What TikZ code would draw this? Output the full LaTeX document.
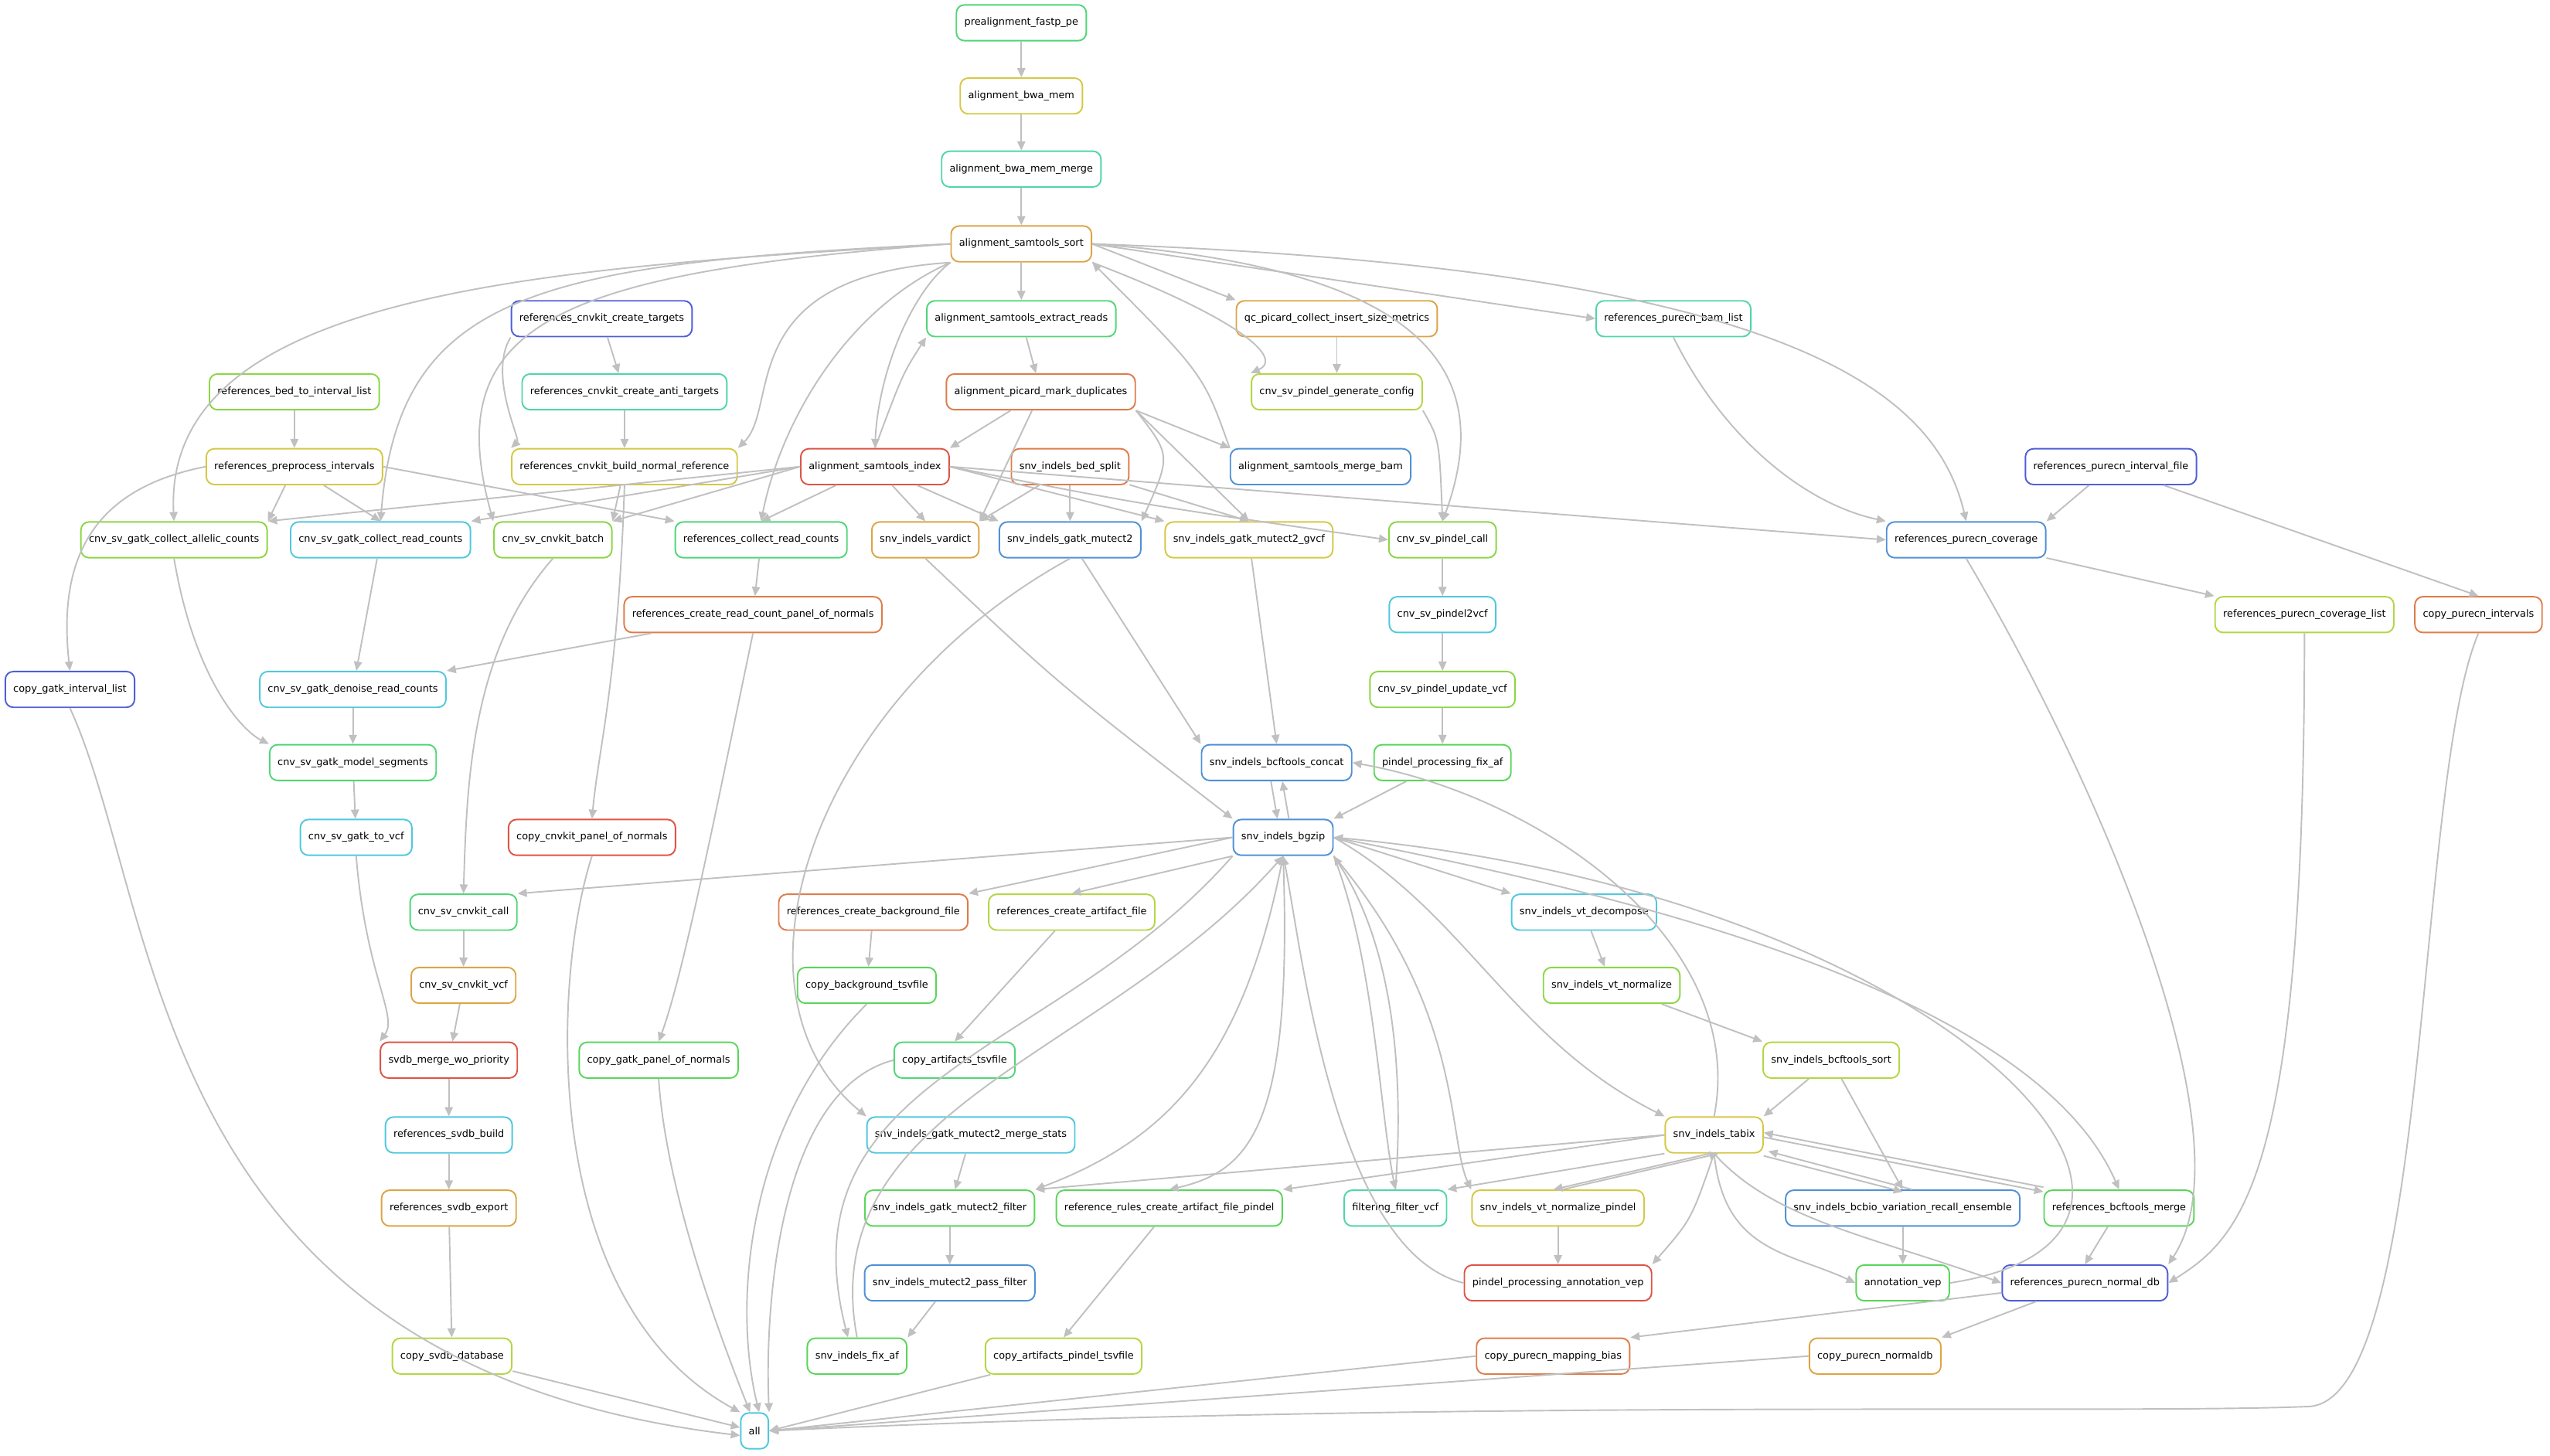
\documentclass[tikz,border=0pt]{standalone}
\usepackage{fontspec}
\setmainfont{DejaVu Sans}
\usetikzlibrary{arrows.meta}
\definecolor{eg}{RGB}{192,192,192}
\definecolor{cgreen}{RGB}{90,214,90}
\definecolor{cgt}{RGB}{80,214,120}
\definecolor{clg}{RGB}{140,214,70}
\definecolor{clime}{RGB}{180,214,70}
\definecolor{cyel}{RGB}{214,200,70}
\definecolor{corg}{RGB}{220,165,70}
\definecolor{corgred}{RGB}{222,125,75}
\definecolor{cred}{RGB}{222,85,70}
\definecolor{cblue}{RGB}{80,145,214}
\definecolor{cindigo}{RGB}{80,95,214}
\definecolor{cteal}{RGB}{80,214,170}
\definecolor{ccyan}{RGB}{80,200,222}
\begin{document}
\begin{tikzpicture}[x=0.05cm,y=-0.05cm,
  n/.style={draw=#1,line width=1.3pt,rounded corners=7pt,minimum height=1.1cm,inner xsep=7pt,fill=white,font=\fontsize{8.7}{10}\selectfont},
  e/.style={draw=eg,line width=1.3pt,-{Triangle[length=8pt,width=7pt]}}]
\useasboundingbox (0,0) rectangle (1568,895);
% nodes
\node[n=cgt] (pre) at (628,14) {prealignment\_fastp\_pe};
\node[n=cyel] (bwa) at (628,59) {alignment\_bwa\_mem};
\node[n=cteal] (bwam) at (628,104) {alignment\_bwa\_mem\_merge};
\node[n=corg] (sort) at (628,150) {alignment\_samtools\_sort};
\node[n=cindigo] (ct) at (370,196) {references\_cnvkit\_create\_targets};
\node[n=cgt] (ext) at (628,196) {alignment\_samtools\_extract\_reads};
\node[n=corg] (qc) at (822,196) {qc\_picard\_collect\_insert\_size\_metrics};
\node[n=cteal] (bam) at (1029,196) {references\_purecn\_bam\_list};
\node[n=clg] (bti) at (181,241) {references\_bed\_to\_interval\_list};
\node[n=cteal] (anti) at (384,241) {references\_cnvkit\_create\_anti\_targets};
\node[n=corgred] (md) at (640,241) {alignment\_picard\_mark\_duplicates};
\node[n=clime] (gen) at (822,241) {cnv\_sv\_pindel\_generate\_config};
\node[n=cyel] (ppi) at (181,287) {references\_preprocess\_intervals};
\node[n=cyel] (bn) at (384,287) {references\_cnvkit\_build\_normal\_reference};
\node[n=cred] (idx) at (538,287) {alignment\_samtools\_index};
\node[n=corgred] (bs) at (658,287) {snv\_indels\_bed\_split};
\node[n=cblue] (mb) at (812,287) {alignment\_samtools\_merge\_bam};
\node[n=cindigo] (pif) at (1298,287) {references\_purecn\_interval\_file};
\node[n=clg] (al) at (107,332) {cnv\_sv\_gatk\_collect\_allelic\_counts};
\node[n=ccyan] (grc) at (234,332) {cnv\_sv\_gatk\_collect\_read\_counts};
\node[n=clg] (kb) at (340,332) {cnv\_sv\_cnvkit\_batch};
\node[n=cgt] (rcrc) at (468,332) {references\_collect\_read\_counts};
\node[n=corg] (vd) at (569,332) {snv\_indels\_vardict};
\node[n=cblue] (m2) at (658,332) {snv\_indels\_gatk\_mutect2};
\node[n=cyel] (gv) at (768,332) {snv\_indels\_gatk\_mutect2\_gvcf};
\node[n=clg] (pc) at (887,332) {cnv\_sv\_pindel\_call};
\node[n=cblue] (cov) at (1209,332) {references\_purecn\_coverage};
\node[n=corgred] (pon) at (463,378) {references\_create\_read\_count\_panel\_of\_normals};
\node[n=ccyan] (p2v) at (887,378) {cnv\_sv\_pindel2vcf};
\node[n=clime] (cl) at (1417,378) {references\_purecn\_coverage\_list};
\node[n=corgred] (cpi) at (1524,378) {copy\_purecn\_intervals};
\node[n=cindigo] (cgil) at (43,424) {copy\_gatk\_interval\_list};
\node[n=ccyan] (den) at (217,424) {cnv\_sv\_gatk\_denoise\_read\_counts};
\node[n=clg] (upd) at (887,424) {cnv\_sv\_pindel\_update\_vcf};
\node[n=cgt] (ms) at (217,469) {cnv\_sv\_gatk\_model\_segments};
\node[n=cblue] (cc) at (785,469) {snv\_indels\_bcftools\_concat};
\node[n=cgreen] (pfa) at (887,469) {pindel\_processing\_fix\_af};
\node[n=ccyan] (gtv) at (219,515) {cnv\_sv\_gatk\_to\_vcf};
\node[n=cred] (ccp) at (364,515) {copy\_cnvkit\_panel\_of\_normals};
\node[n=cblue] (bg) at (789,515) {snv\_indels\_bgzip};
\node[n=cgt] (kc) at (285,561) {cnv\_sv\_cnvkit\_call};
\node[n=corgred] (rbf) at (537,561) {references\_create\_background\_file};
\node[n=clime] (raf) at (659,561) {references\_create\_artifact\_file};
\node[n=ccyan] (vdec) at (974,561) {snv\_indels\_vt\_decompose};
\node[n=corg] (kv) at (285,606) {cnv\_sv\_cnvkit\_vcf};
\node[n=cgreen] (cbt) at (533,606) {copy\_background\_tsvfile};
\node[n=clg] (vn) at (991,606) {snv\_indels\_vt\_normalize};
\node[n=cred] (svm) at (276,652) {svdb\_merge\_wo\_priority};
\node[n=cgreen] (cgp) at (405,652) {copy\_gatk\_panel\_of\_normals};
\node[n=cgt] (cat) at (587,652) {copy\_artifacts\_tsvfile};
\node[n=clime] (bcs) at (1126,652) {snv\_indels\_bcftools\_sort};
\node[n=ccyan] (svb) at (276,698) {references\_svdb\_build};
\node[n=ccyan] (mst) at (597,698) {snv\_indels\_gatk\_mutect2\_merge\_stats};
\node[n=cyel] (tb) at (1054,698) {snv\_indels\_tabix};
\node[n=corg] (sve) at (276,743) {references\_svdb\_export};
\node[n=cgreen] (mf) at (584,743) {snv\_indels\_gatk\_mutect2\_filter};
\node[n=cgreen] (rr) at (719,743) {reference\_rules\_create\_artifact\_file\_pindel};
\node[n=cteal] (ff) at (858,743) {filtering\_filter\_vcf};
\node[n=cyel] (vnp) at (958,743) {snv\_indels\_vt\_normalize\_pindel};
\node[n=cblue] (bcb) at (1170,743) {snv\_indels\_bcbio\_variation\_recall\_ensemble};
\node[n=cgreen] (bm) at (1303,743) {references\_bcftools\_merge};
\node[n=cblue] (pf) at (584,789) {snv\_indels\_mutect2\_pass\_filter};
\node[n=cred] (pav) at (958,789) {pindel\_processing\_annotation\_vep};
\node[n=cgreen] (av) at (1170,789) {annotation\_vep};
\node[n=cindigo] (ndb) at (1282,789) {references\_purecn\_normal\_db};
\node[n=clime] (csd) at (278,834) {copy\_svdb\_database};
\node[n=cgreen] (fa) at (527,834) {snv\_indels\_fix\_af};
\node[n=clime] (cap) at (654,834) {copy\_artifacts\_pindel\_tsvfile};
\node[n=corgred] (cmb) at (955,834) {copy\_purecn\_mapping\_bias};
\node[n=corg] (cnd) at (1153,834) {copy\_purecn\_normaldb};
\node[n=ccyan] (all) at (464,880) {all};
% edges top
\draw[e] (pre) -- (bwa);
\draw[e] (bwa) -- (bwam);
\draw[e] (bwam) -- (sort);
\draw[e] (sort) -- (ext);
\draw[e] (sort.east) -- (qc.north west);
\draw[e] (sort.east) -- (bam.west);
\draw[e] (sort.south east) .. controls (760,195) and (790,220) .. (gen.north west);
\draw[e] (sort.east) .. controls (880,165) and (920,230) .. (pc.north);
\draw[e] (sort.east) .. controls (1100,165) and (1190,240) .. (cov.north);
\draw[e] (sort.south west) .. controls (560,180) and (540,230) .. (idx.north);
\draw[e] (sort.west) .. controls (330,165) and (100,180) .. (al.north);
\draw[e] (sort.west) .. controls (330,162) and (245,180) .. (grc.north);
\draw[e] (sort.west) .. controls (340,168) and (270,200) .. (kb.north west);
\draw[e] (sort.south west) .. controls (450,170) and (480,250) .. (bn.north east);
\draw[e] (sort.south west) .. controls (520,190) and (480,260) .. (rcrc.north);
\draw[e] (mb.north west) .. controls (740,230) .. (sort.south east);
\draw[e] (idx.north) .. controls (555,230) .. (ext.south west);
\draw[e] (ext) -- (md);
\draw[e] (md) -- (idx.north east);
\draw[e] (md) -- (vd.north east);
\draw[e] (md.south east) .. controls (720,280) .. (m2.north east);
\draw[e] (md.south east) -- (gv.north);
\draw[e] (md.south east) -- (mb.north west);
\draw[e] (ct) -- (anti);
\draw[e] (ct.south west) .. controls (300,230) and (320,270) .. (bn.north west);
\draw[e] (anti) -- (bn);
\draw[e] (bti) -- (ppi);
\draw[e] (ppi.west) .. controls (60,300) and (35,340) .. (cgil.north);
\draw[e] (ppi) -- (al.north east);
\draw[e] (ppi) -- (grc.north);
\draw[e] (ppi.east) -- (rcrc.north west);
\draw[e] (bn) -- (kb.north east);
\draw[e] (bn.south) .. controls (380,420) and (368,460) .. (ccp.north);
\draw[e] (idx.west) -- (al.north east);
\draw[e] (idx.west) -- (grc.north east);
\draw[e] (idx.west) -- (kb.north east);
\draw[e] (idx) -- (rcrc.north);
\draw[e] (idx) -- (vd.north);
\draw[e] (idx) -- (m2.north west);
\draw[e] (idx.east) -- (gv.north west);
\draw[e] (idx.east) .. controls (700,310) .. (pc.west);
\draw[e] (idx.east) -- (cov.west);
\draw[e] (bs) -- (vd.north east);
\draw[e] (bs) -- (m2);
\draw[e] (bs) -- (gv.north);
\draw[e] (qc) -- (gen);
\draw[e] (gen.south east) .. controls (885,270) .. (pc.north);
\draw[e] (pc) -- (p2v);
\draw[e] (p2v) -- (upd);
\draw[e] (upd) -- (pfa);
\draw[e] (bam.south) .. controls (1060,270) and (1110,310) .. (cov.north west);
\draw[e] (pif) -- (cov.north east);
\draw[e] (pif) -- (cpi.north);
\draw[e] (cov) -- (cl.north west);
\draw[e] (cov.south) .. controls (1290,480) and (1385,700) .. (ndb.north east);
\draw[e] (cl.south) .. controls (1417,720) and (1380,760) .. (ndb.east);
% cnv left
\draw[e] (al.south) .. controls (120,420) and (150,450) .. (ms.north west);
\draw[e] (grc) -- (den);
\draw[e] (rcrc) -- (pon);
\draw[e] (pon) -- (den.north east);
\draw[e] (pon.south) .. controls (440,500) and (420,600) .. (cgp.north);
\draw[e] (den) -- (ms);
\draw[e] (ms) -- (gtv);
\draw[e] (gtv.south) .. controls (225,600) and (245,625) .. (svm.north west);
\draw[e] (kb.south) .. controls (290,400) and (287,480) .. (kc.north);
\draw[e] (kc) -- (kv);
\draw[e] (kv) -- (svm);
\draw[e] (svm) -- (svb);
\draw[e] (svb) -- (sve);
\draw[e] (sve) -- (csd);
% snv
\draw[e] (vd.south) .. controls (650,420) .. (bg.north west);
\draw[e] (m2) -- (cc.north west);
\draw[e] (m2.south) .. controls (500,430) and (440,610) .. (mst.north west);
\draw[e] (gv) -- (cc.north);
\draw[e] ([xshift=-5pt]cc.south) -- ([xshift=-5pt]bg.north);
\draw[e] ([xshift=5pt]bg.north) -- ([xshift=5pt]cc.south);
\draw[e] (pfa) -- (bg.north east);
\draw[e] (tb.north) .. controls (1075,580) and (950,490) .. (cc.east);
\draw[e] (bg.west) -- (kc.north east);
\draw[e] (bg.west) -- (rbf.north east);
\draw[e] (bg.south west) -- (raf.north);
\draw[e] (bg.east) -- (vdec.north west);
\draw[e] (bg.east) .. controls (900,560) and (930,640) .. (tb.north west);
\draw[e] (bg.east) .. controls (1000,550) and (1250,610) .. (bm.north);
\draw[e] (av.east) .. controls (1390,760) and (1200,550) .. (bg.east);
\draw[e] (bg.south west) .. controls (650,650) and (480,660) .. ([xshift=-8pt]fa.north);
\draw[e] (fa.north) .. controls (500,680) and (680,650) .. (bg.south);
\draw[e] (bg.south) .. controls (765,650) and (720,700) .. (mf.north east);
\draw[e] (bg.south) .. controls (795,690) and (770,720) .. (rr.north);
\draw[e] (pav.west) .. controls (820,770) and (800,580) .. (bg.south);
\draw[e] (bg.south east) .. controls (845,590) and (848,680) .. (ff.north);
\draw[e] (ff.north) .. controls (862,680) and (862,590) .. (bg.south east);
\draw[e] (bg.south east) .. controls (900,620) and (890,700) .. (vnp.north west);
\draw[e] (vdec) -- (vn);
\draw[e] (vn) -- (bcs.north west);
\draw[e] (bcs) -- (tb.north east);
\draw[e] (bcs) -- (bcb.north);
\draw[e] (tb.west) -- (mf.north east);
\draw[e] (tb.west) -- (rr.north east);
\draw[e] (tb.south west) -- (ff.north east);
\draw[e] ([xshift=-4pt]tb.south) -- ([xshift=-4pt]vnp.north);
\draw[e] ([xshift=4pt]vnp.north) -- ([xshift=4pt]tb.south);
\draw[e] (tb.south) .. controls (1040,750) .. (pav.north east);
\draw[e] (tb.south) .. controls (1060,770) and (1100,770) .. (av.west);
\draw[e] (tb.south) .. controls (1090,750) and (1150,760) .. (ndb.west);
\draw[e] ([yshift=-2pt]tb.south east) -- ([yshift=-2pt]bcb.north);
\draw[e] ([xshift=8pt]bcb.north) -- ([yshift=2pt,xshift=4pt]tb.south east);
\draw[e] ([yshift=-2pt]tb.east) -- ([yshift=-2pt]bm.north west);
\draw[e] ([yshift=2pt]bm.north west) -- ([yshift=2pt]tb.east);
\draw[e] (bcb) -- (av);
\draw[e] (vnp) -- (pav);
\draw[e] (bm) -- (ndb.north);
\draw[e] (mst) -- (mf);
\draw[e] (mf) -- (pf);
\draw[e] (pf) -- (fa.north east);
\draw[e] (rbf) -- (cbt);
\draw[e] (raf) -- (cat.north);
\draw[e] (rr) -- (cap.north);
\draw[e] (ndb) -- (cmb.north east);
\draw[e] (ndb) -- (cnd.north east);
% into all
\draw[e] (cgil.south) .. controls (100,560) and (90,840) .. ([yshift=-4pt]all.west);
\draw[e] (csd) -- ([yshift=3pt]all.west);
\draw[e] (ccp.south) .. controls (340,600) and (330,800) .. (all.north west);
\draw[e] (cgp.south) .. controls (410,740) and (450,840) .. ([xshift=-4pt]all.north);
\draw[e] (cbt.south) .. controls (460,690) and (450,800) .. ([xshift=4pt]all.north);
\draw[e] (cat.west) .. controls (480,670) and (470,800) .. (all.north east);
\draw[e] (cap) -- (all.east);
\draw[e] (cmb.west) -- (all.east);
\draw[e] (cnd.west) -- (all.east);
\draw[e] (cpi.south) .. controls (1485,480) and (1495,860) .. (1420,865) .. controls (1300,870) and (900,860) .. (all.east);
\end{tikzpicture}
\end{document}
